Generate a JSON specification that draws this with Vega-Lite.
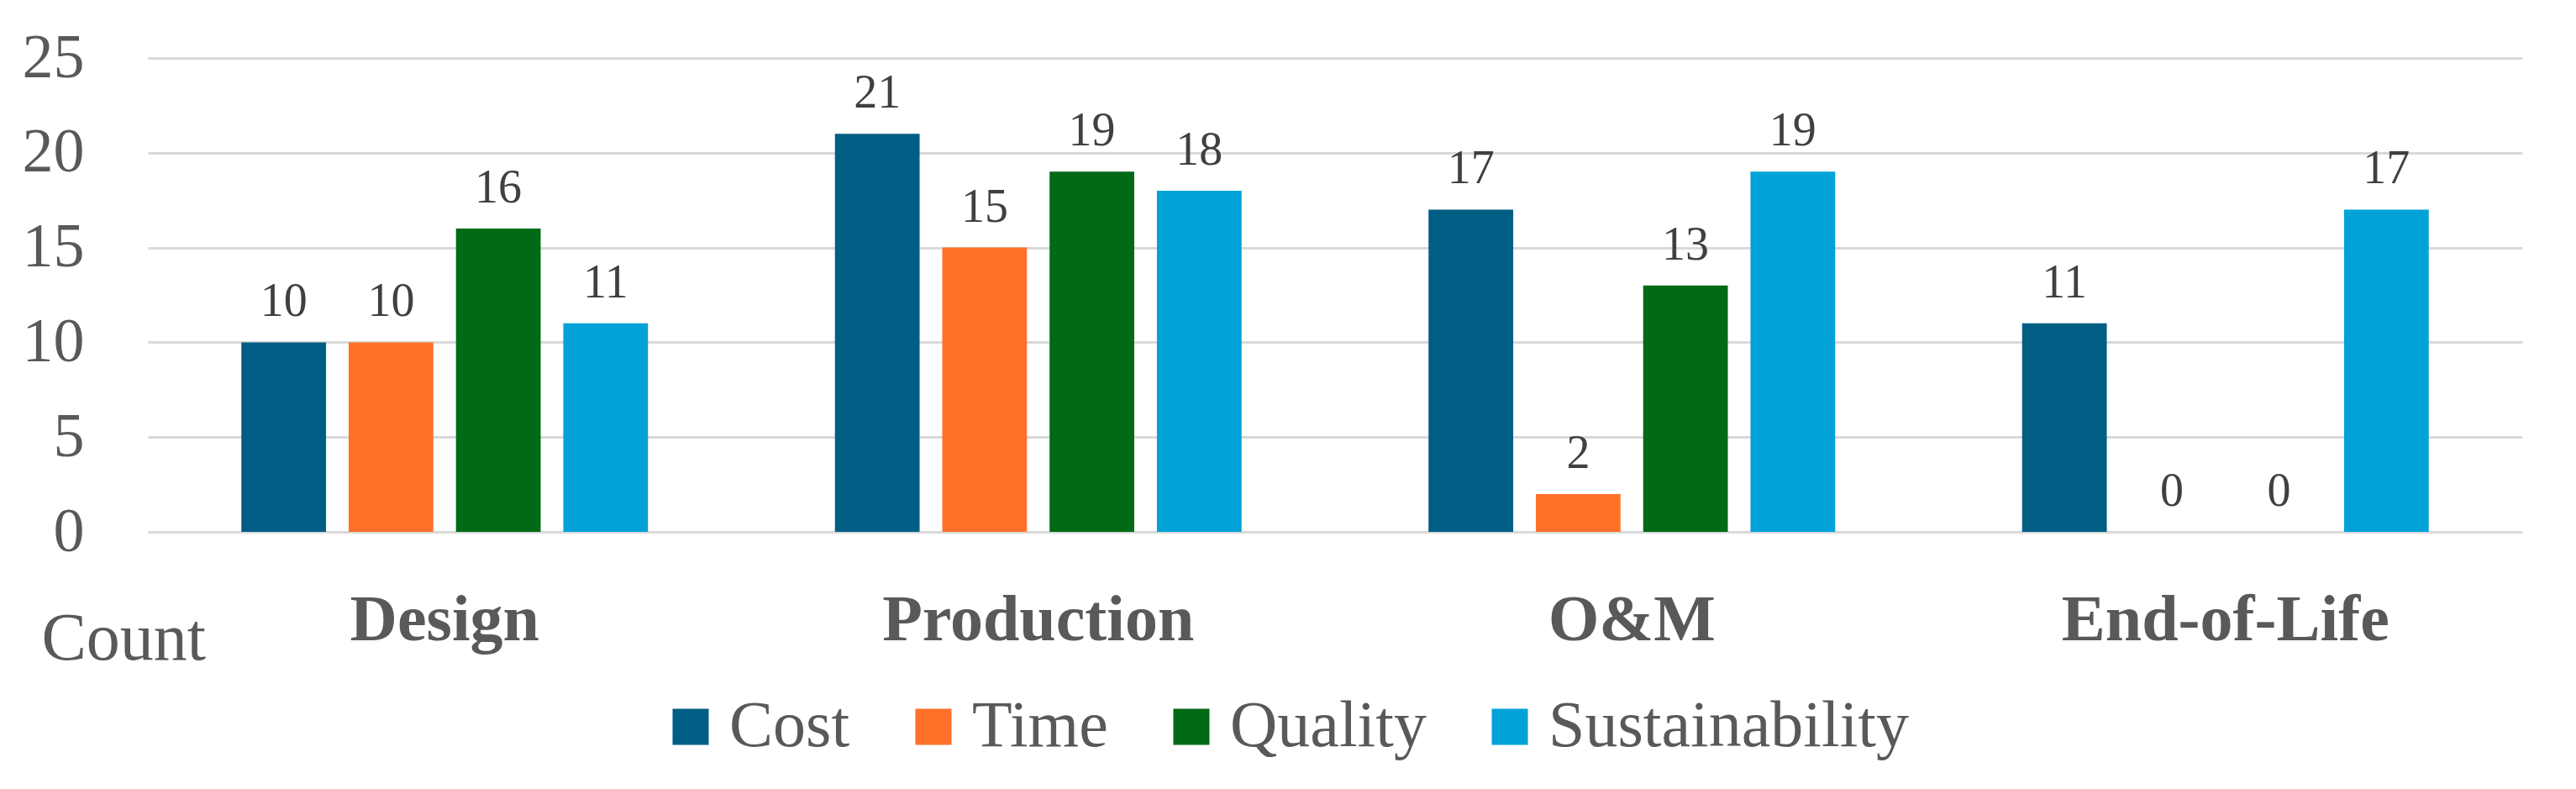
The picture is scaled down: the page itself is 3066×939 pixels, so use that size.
{
  "$schema": "https://vega.github.io/schema/vega-lite/v6.json",
  "width": 2826,
  "height": 564,
  "autosize": {"type": "none"},
  "padding": {"left": 176, "top": 69, "right": 64, "bottom": 306},
  "background": "white",
  "data": {
    "values": [
      {"stage": "Design", "metric": "Cost", "count": 10},
      {"stage": "Design", "metric": "Time", "count": 10},
      {"stage": "Design", "metric": "Quality", "count": 16},
      {"stage": "Design", "metric": "Sustainability", "count": 11},
      {"stage": "Production", "metric": "Cost", "count": 21},
      {"stage": "Production", "metric": "Time", "count": 15},
      {"stage": "Production", "metric": "Quality", "count": 19},
      {"stage": "Production", "metric": "Sustainability", "count": 18},
      {"stage": "O&M", "metric": "Cost", "count": 17},
      {"stage": "O&M", "metric": "Time", "count": 2},
      {"stage": "O&M", "metric": "Quality", "count": 13},
      {"stage": "O&M", "metric": "Sustainability", "count": 19},
      {"stage": "End-of-Life", "metric": "Cost", "count": 11},
      {"stage": "End-of-Life", "metric": "Time", "count": 0},
      {"stage": "End-of-Life", "metric": "Quality", "count": 0},
      {"stage": "End-of-Life", "metric": "Sustainability", "count": 17}
    ]
  },
  "encoding": {
    "x": {
      "field": "stage",
      "type": "nominal",
      "scale": {"domain": ["Design", "Production", "O&M", "End-of-Life"], "paddingInner": 0, "paddingOuter": 0},
      "axis": {
        "title": null,
        "labelAngle": 0,
        "labelFont": "Liberation Serif",
        "labelFontSize": 78,
        "labelFontWeight": "bold",
        "labelColor": "#595959",
        "labelBaseline": "alphabetic",
        "labelPadding": 128,
        "labelLimit": 0,
        "ticks": false,
        "domain": false,
        "grid": false
      }
    },
    "xOffset": {
      "field": "metric",
      "type": "nominal",
      "scale": {"domain": ["Cost", "Time", "Quality", "Sustainability"], "paddingInner": 0.211, "paddingOuter": 0.871}
    },
    "y": {
      "field": "count",
      "type": "quantitative",
      "scale": {"domain": [0, 25], "nice": false},
      "axis": {
        "values": [0, 5, 10, 15, 20, 25],
        "title": "Count",
        "titleAngle": 0,
        "titleAlign": "left",
        "titleBaseline": "alphabetic",
        "titleX": -127,
        "titleY": 715,
        "titleFont": "Liberation Serif",
        "titleFontSize": 80,
        "titleFontWeight": "normal",
        "titleColor": "#595959",
        "labelFont": "Liberation Serif",
        "labelFontSize": 74,
        "labelColor": "#595959",
        "labelPadding": 76,
        "labelBaseline": "middle",
        "ticks": false,
        "domain": false,
        "grid": true,
        "gridColor": "#d9d9d9",
        "gridWidth": 3
      }
    }
  },
  "layer": [
    {
      "mark": {"type": "bar"},
      "encoding": {
        "color": {
          "field": "metric",
          "type": "nominal",
          "scale": {
            "domain": ["Cost", "Time", "Quality", "Sustainability"],
            "range": ["#005e84", "#ff7029", "#006a17", "#00a2d7"]
          },
          "legend": {
            "title": null,
            "orient": "none",
            "direction": "horizontal",
            "legendX": 607,
            "legendY": 757,
            "padding": 0,
            "symbolType": "square",
            "symbolSize": 1849,
            "symbolStrokeWidth": 0,
            "labelFont": "Liberation Serif",
            "labelFontSize": 78,
            "labelColor": "#595959",
            "labelOffset": 7,
            "labelLimit": 0,
            "columnPadding": 60
          }
        }
      }
    },
    {
      "mark": {
        "type": "text",
        "baseline": "alphabetic",
        "dy": -31,
        "font": "Liberation Serif",
        "fontSize": 56,
        "color": "#404040"
      },
      "encoding": {"text": {"field": "count", "type": "quantitative"}}
    }
  ],
  "config": {"view": {"stroke": null}}
}
